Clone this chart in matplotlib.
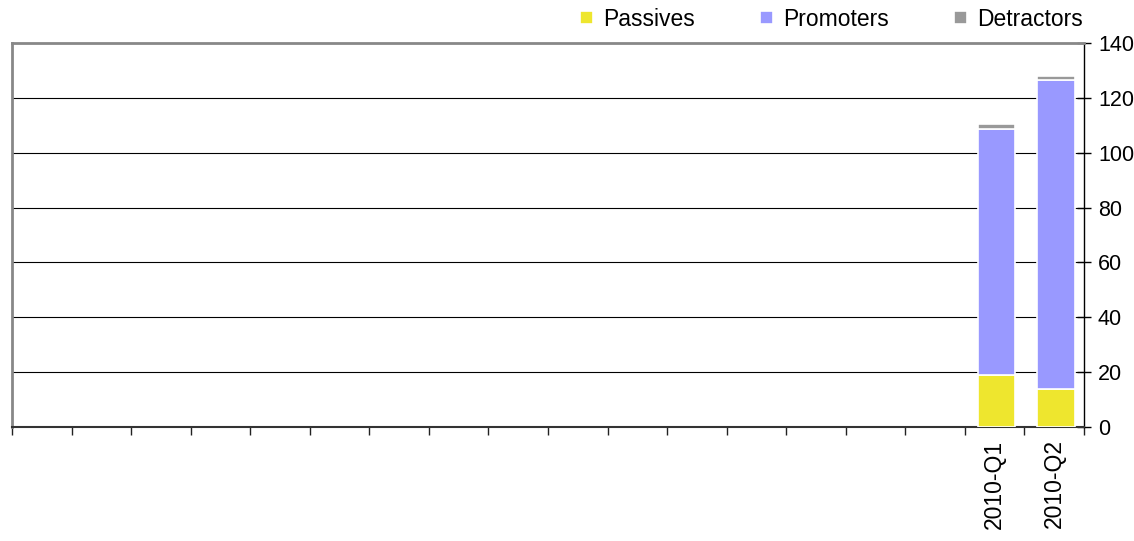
import matplotlib
matplotlib.use("Agg")
import matplotlib.pyplot as plt
import numpy as np

plt.rcParams['font.family'] = ['Liberation Sans', 'DejaVu Sans']

categories = [""] * 16 + ["2010-Q1", "2010-Q2"]
passives = [0] * 16 + [19, 14]
promoters = [0] * 16 + [89.5, 112.5]
detractors = [0] * 16 + [2, 1.5]

c_pass = "#EEE62E"
c_prom = "#9999FF"
c_det = "#999999"

fig = plt.figure(figsize=(11.34, 5.41), dpi=100)
ax = fig.add_axes([12/1134, (541-427)/541, (1084-12)/1134, (427-43)/541])

x = np.arange(len(categories))
w = 0.63
p = np.array(passives, float)
pr = np.array(promoters, float)
d = np.array(detractors, float)
m = (p + pr + d) > 0
ax.bar(x[m] + 0.03, p[m], w, color=c_pass, edgecolor="white", linewidth=1.2, label="Passives", zorder=3)
ax.bar(x[m] + 0.03, pr[m], w, bottom=p[m], color=c_prom, edgecolor="white", linewidth=1.2, label="Promoters", zorder=3)
ax.bar(x[m] + 0.03, d[m], w, bottom=(p + pr)[m], color=c_det, edgecolor="white", linewidth=1.2, label="Detractors", zorder=3)

ax.set_xlim(-0.5, len(categories) - 0.5)
ax.set_ylim(0, 140)
ax.set_yticks(range(0, 141, 20))
ax.yaxis.tick_right()
ax.tick_params(axis='y', direction='inout', length=10, width=1, labelsize=15.5, pad=5, colors='black')
ax.set_xticks(x)
ax.set_xticklabels(categories, rotation=90, fontsize=16.5)
ax.tick_params(axis='x', length=0, pad=9)
ax.set_xticks(np.arange(-0.5, len(categories), 1), minor=True)
ax.tick_params(axis='x', which='minor', direction='out', length=6, width=1, color='#222222')

for yv in range(20, 140, 20):
    ax.axhline(yv, color='black', linewidth=0.8, zorder=1)

ax.spines['left'].set_color('#888888')
ax.spines['left'].set_linewidth(2)
ax.spines['top'].set_color('#888888')
ax.spines['top'].set_linewidth(2)
ax.spines['right'].set_color('black')
ax.spines['right'].set_linewidth(1)
ax.spines['bottom'].set_color('#333333')
ax.spines['bottom'].set_linewidth(1.5)

fig.legend(loc='center right', bbox_to_anchor=(1083/1134, 1 - 19/541), ncol=3, frameon=False,
           fontsize=16.5, handlelength=0.55, handleheight=0.5, handletextpad=0.45, columnspacing=2.85,
           borderaxespad=0, borderpad=0)

fig.savefig("out.png", dpi=100)
